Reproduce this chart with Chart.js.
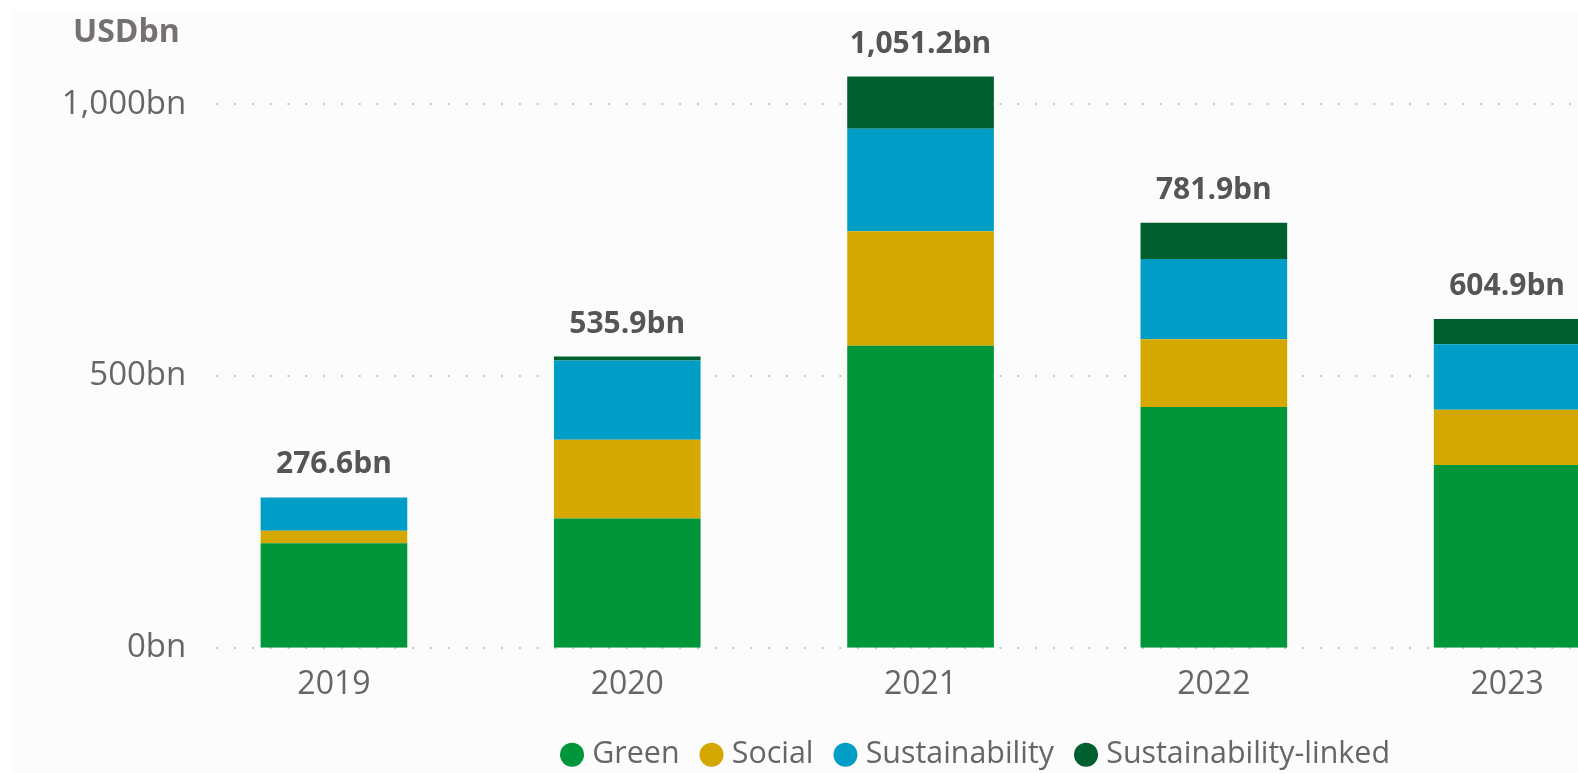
<!DOCTYPE html>
<html>
<head>
<meta charset="utf-8">
<title>Sustainable bond issuance</title>
<script src="https://cdn.jsdelivr.net/npm/chart.js@4.4.1/dist/chart.umd.min.js"></script>
<style>
  html, body { margin: 0; padding: 0; background: #ffffff; overflow: hidden; }
  #panel { position: absolute; left: 13px; top: 10px; width: 1565px; height: 763px; background: #fcfcfc; }
  #chart { position: absolute; left: 0; top: 0; }
</style>
</head>
<body>
<div id="panel"></div>
<canvas id="chart" width="1957" height="780"></canvas>
<script>
// issuance by label type, USD bn
const years = ['2019', '2020', '2021', '2022', '2023'];
const green = [192.5, 237.8, 555.7, 443.2, 336.3];
const social = [22.7, 145.1, 210.7, 124.6, 101.9];
const sustainability = [61.4, 145.6, 188.6, 147.5, 120.4];
const sustainabilityLinked = [0, 7.4, 96.2, 66.6, 46.3];
const yTicks = [0, 500, 1000];
const unitLabel = 'USDbn';

const FONT = "'Open Sans', 'Noto Sans', sans-serif";

function fmtBn(v, digits) {
    return v.toLocaleString('en-US', { minimumFractionDigits: digits, maximumFractionDigits: digits }) + 'bn';
}

// unit caption in the top-left corner
const unitCaption = {
    id: 'unitCaption',
    afterDraw(chart) {
        const { ctx } = chart;
        ctx.save();
        ctx.font = 'bold 32px ' + FONT;
        ctx.fillStyle = '#767171';
        ctx.textAlign = 'left';
        ctx.textBaseline = 'alphabetic';
        ctx.fillText(unitLabel, 73, 42);
        ctx.restore();
    }
};

// dotted horizontal lines, starting a little right of the axis labels
const dottedGrid = {
    id: 'dottedGrid',
    beforeDatasetsDraw(chart) {
        const { ctx, chartArea, scales } = chart;
        ctx.save();
        ctx.strokeStyle = '#c6c6c6';
        ctx.lineWidth = 2;
        ctx.setLineDash([2, 15.8]);
        yTicks.forEach(v => {
            const y = Math.round(scales.y.getPixelForValue(v));
            ctx.beginPath();
            ctx.moveTo(chartArea.left + 29, y);
            ctx.lineTo(chartArea.right, y);
            ctx.stroke();
        });
        ctx.restore();
    }
};

// stack totals printed above each bar
const totalLabels = {
    id: 'totalLabels',
    afterDatasetsDraw(chart) {
        const { ctx, scales } = chart;
        const meta = chart.getDatasetMeta(0);
        ctx.save();
        ctx.font = 'bold 30px ' + FONT;
        ctx.fillStyle = '#555555';
        ctx.textAlign = 'center';
        ctx.textBaseline = 'alphabetic';
        years.forEach((yr, i) => {
            const total = green[i] + social[i] + sustainability[i] + sustainabilityLinked[i];
            const x = meta.data[i].x;
            const y = scales.y.getPixelForValue(total);
            ctx.fillText(fmtBn(total, 1), x, y - 24);
        });
        ctx.restore();
    }
};

const canvas = document.getElementById('chart');
new Chart(canvas.getContext('2d'), {
    type: 'bar',
    data: {
        labels: years,
        datasets: [
            { label: 'Green', data: green, backgroundColor: '#009639' },
            { label: 'Social', data: social, backgroundColor: '#d5a800' },
            { label: 'Sustainability', data: sustainability, backgroundColor: '#009dc6' },
            { label: 'Sustainability-linked', data: sustainabilityLinked, backgroundColor: '#005f2e' }
        ]
    },
    options: {
        responsive: false,
        animation: false,
        layout: { padding: { left: 0, right: 0, top: 50, bottom: 0 } },
        datasets: {
            bar: { barPercentage: 1, categoryPercentage: 0.5 }
        },
        scales: {
            x: {
                stacked: true,
                grid: { display: false },
                border: { display: false },
                afterFit: axis => { axis.height -= 2.2; },
                ticks: { color: '#666666', font: { family: FONT, size: 32 }, padding: 10.3 }
            },
            y: {
                stacked: true,
                min: 0,
                max: 1100,
                grid: { display: false, drawTicks: false },
                border: { display: false },
                afterBuildTicks: axis => { axis.ticks = yTicks.map(v => ({ value: v })); },
                afterFit: axis => { axis.width = 187.3; },
                ticks: {
                    color: '#666666',
                    font: { family: FONT, size: 33 },
                    padding: 1,
                    callback: v => fmtBn(v, 0)
                }
            },
            // empty right-hand axis, only reserves space so the plot ends where it should
            yRight: {
                position: 'right',
                grid: { display: false, drawTicks: false },
                border: { display: false },
                ticks: { display: false },
                afterFit: axis => { axis.width = 303.2; }
            }
        },
        plugins: {
            legend: {
                position: 'bottom',
                labels: {
                    usePointStyle: true,
                    pointStyle: 'circle',
                    boxWidth: 10,
                    boxHeight: 17,
                    padding: 27,
                    color: '#666666',
                    font: { family: FONT, size: 30.4 }
                }
            },
            tooltip: { enabled: false }
        }
    },
    plugins: [dottedGrid, totalLabels, unitCaption]
});
</script>
</body>
</html>
